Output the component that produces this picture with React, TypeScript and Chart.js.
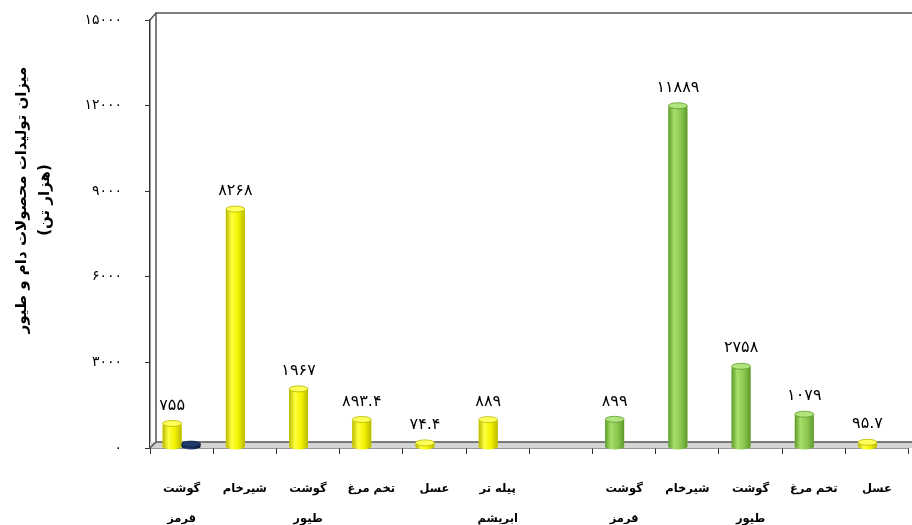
import React, { useEffect, useRef } from "react";
import { Chart, registerables } from "chart.js";

Chart.register(...registerables);

// ---- data ----
const categories: string[][] = [
  ["گوشت", "قرمز"],
  ["شیرخام"],
  ["گوشت", "طیور"],
  ["تخم مرغ"],
  ["عسل"],
  ["پیله تر", "ابریشم"],
  [""],
  ["گوشت", "قرمز"],
  ["شیرخام"],
  ["گوشت", "طیور"],
  ["تخم مرغ"],
  ["عسل"],
];
const productionValues: (number | null)[] = [755, 8268, 1967, 893.4, 74.4, 889, null, 899, 11889, 2758, 1079, 95.7];
const barColorKinds: (string | null)[] = ["yellow", "yellow", "yellow", "yellow", "yellow", "yellow", null, "green", "green", "green", "green", "yellow"];
const secondSeriesValues: (number | null)[] = [30, null, null, null, null, null, null, null, null, null, null, null];
const yTickMin = 0;
const yTickMax = 15000;
const yTickStep = 3000;
const yTitleLines = ["میزان تولیدات محصولات دام و طیور", "(هزار تن)"];

const FONT = "'DejaVu Sans', sans-serif";
const faDigits = "۰۱۲۳۴۵۶۷۸۹";
const toFa = (v: number | string) => String(v).replace(/[0-9]/g, (d) => faDigits[Number(d)]);

const palette: Record<string, { dark: string; light: string; mid: string; cap: string }> = {
  yellow: { dark: "#b8b800", light: "#ffff40", mid: "#f2f200", cap: "#ffff5a" },
  green: { dark: "#5e9a2c", light: "#a6e06a", mid: "#8cc850", cap: "#b0e47c" },
  navy: { dark: "#0a1a3a", light: "#2a4478", mid: "#17305e", cap: "#1f3a6e" },
};

const framePlugin = {
  id: "frame3d",
  beforeDatasetsDraw(chart: any) {
    const { ctx, chartArea } = chart;
    const { left, top, bottom } = chartArea;
    const dx = 6, dy = 7;
    ctx.save();
    ctx.fillStyle = "#d4d4d4";
    ctx.fillRect(left, bottom - 6, chart.width - left, 6);
    ctx.strokeStyle = "#555";
    ctx.lineWidth = 1.5;
    ctx.beginPath();
    ctx.moveTo(left + dx, bottom - 6);
    ctx.lineTo(chart.width, bottom - 6);
    ctx.stroke();
    ctx.beginPath();
    ctx.moveTo(left + dx, bottom - 6);
    ctx.lineTo(left + dx, top - dy);
    ctx.lineTo(chart.width, top - dy);
    ctx.stroke();
    ctx.beginPath();
    ctx.moveTo(left, top);
    ctx.lineTo(left + dx, top - dy);
    ctx.moveTo(left, bottom);
    ctx.lineTo(left + dx, bottom - 6);
    ctx.stroke();
    ctx.restore();
  },
};

const cylinderPlugin = {
  id: "cylinders",
  afterDatasetsDraw(chart: any) {
    const { ctx } = chart;
    chart.data.datasets.forEach((ds: any, di: number) => {
      const meta = chart.getDatasetMeta(di);
      meta.data.forEach((el: any, i: number) => {
        const v = ds.data[i];
        if (v === null || v === undefined) return;
        const kind = di === 0 ? barColorKinds[i] : "navy";
        if (!kind) return;
        const p = palette[kind];
        const { x, y: yv, base, width } = el.getProps(["x", "y", "base", "width"], true);
        const y = yv - 3;
        const l = x - width / 2;
        const r = x + width / 2;
        const ry = 3;
        const g = ctx.createLinearGradient(l, 0, r, 0);
        g.addColorStop(0, p.dark);
        g.addColorStop(0.3, p.light);
        g.addColorStop(0.65, p.mid);
        g.addColorStop(1, p.dark);
        ctx.save();
        ctx.fillStyle = g;
        ctx.beginPath();
        ctx.moveTo(l, y);
        ctx.lineTo(l, base - 1);
        ctx.ellipse(x, base - 1, width / 2, ry, 0, Math.PI, 0, true);
        ctx.lineTo(r, y);
        ctx.closePath();
        ctx.fill();
        ctx.beginPath();
        ctx.ellipse(x, y, width / 2, ry, 0, 0, Math.PI * 2);
        ctx.fillStyle = p.cap;
        ctx.fill();
        ctx.strokeStyle = p.dark;
        ctx.lineWidth = 0.8;
        ctx.stroke();
        ctx.restore();
      });
    });
  },
};

const labelPlugin = {
  id: "valueLabels",
  afterDatasetsDraw(chart: any) {
    const { ctx } = chart;
    const meta = chart.getDatasetMeta(0);
    ctx.save();
    ctx.font = `16px ${FONT}`;
    ctx.fillStyle = "#000";
    ctx.textAlign = "center";
    ctx.textBaseline = "middle";
    meta.data.forEach((el: any, i: number) => {
      const v = productionValues[i];
      if (v === null) return;
      const { x, y } = el.getProps(["x", "y"], true);
      ctx.fillText(toFa(v), x, y - 21);
    });
    ctx.restore();
  },
};

const yTitlePlugin = {
  id: "yTitle",
  afterDraw(chart: any) {
    const { ctx } = chart;
    ctx.save();
    ctx.font = `bold 15px ${FONT}`;
    ctx.fillStyle = "#000";
    ctx.textAlign = "center";
    ctx.textBaseline = "middle";
    const xs = [22, 45];
    yTitleLines.forEach((line, i) => {
      ctx.save();
      ctx.translate(xs[i], 200);
      ctx.rotate(-Math.PI / 2);
      ctx.fillText(line, 0, 0);
      ctx.restore();
    });
    ctx.restore();
  },
};

export default function App() {
  const ref = useRef<HTMLCanvasElement | null>(null);
  useEffect(() => {
    if (!ref.current) return;
    const chart = new Chart(ref.current, {
      type: "bar",
      data: {
        labels: categories,
        datasets: [
          {
            data: productionValues,
            backgroundColor: barColorKinds.map((k) => (k ? palette[k].mid : "transparent")),
            categoryPercentage: 0.6,
            barPercentage: 1,
          },
          {
            data: secondSeriesValues,
            backgroundColor: palette.navy.mid,
            categoryPercentage: 0.6,
            barPercentage: 1,
          },
        ],
      } as any,
      options: {
        responsive: false,
        animation: false,
        layout: { padding: { top: 20, right: 2, left: 0, bottom: 0 } },
        plugins: { legend: { display: false }, tooltip: { enabled: false } },
        scales: {
          x: {
            afterFit: (s: any) => {
              s.height = 77;
            },
            grid: { drawOnChartArea: false, tickLength: 6, color: "#333", offset: true },
            border: { display: true, color: "#333", width: 1.5 },
            ticks: {
              autoSkip: false,
              maxRotation: 0,
              padding: 20,
              color: "#000",
              font: { family: FONT, size: 11.5, weight: "bold", lineHeight: "30px" } as any,
            },
          },
          y: {
            min: yTickMin,
            max: yTickMax,
            afterFit: (s: any) => {
              s.width = 150;
              s.paddingTop = 0;
              s.paddingBottom = 0;
            },
            ticks: {
              stepSize: yTickStep,
              padding: 23,
              color: "#000",
              font: { family: FONT, size: 14 },
              callback: (v: any) => toFa(v),
            },
            grid: { drawOnChartArea: false, tickLength: 5, color: "#333" },
            border: { display: true, color: "#333", width: 1.5 },
          },
        },
      },
      plugins: [framePlugin, cylinderPlugin, labelPlugin, yTitlePlugin],
    });
    return () => chart.destroy();
  }, []);
  return (
    <div style={{ position: "absolute", left: 0, top: 0, width: 912, height: 525, background: "#fff" }}>
      <canvas ref={ref} width={912} height={525} style={{ display: "block" }} />
    </div>
  );
}
